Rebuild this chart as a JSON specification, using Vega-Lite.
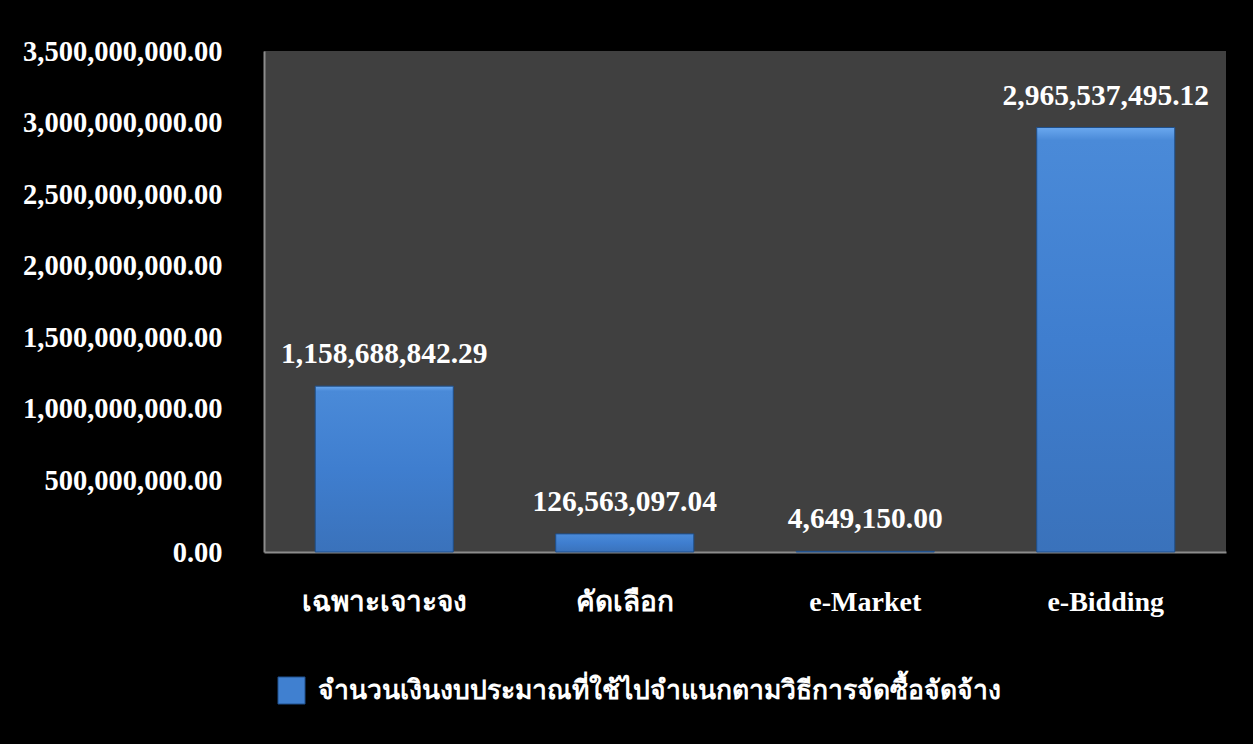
{
  "$schema": "https://vega.github.io/schema/vega-lite/v6.json",
  "autosize": {"type": "none"},
  "width": 962,
  "height": 501,
  "padding": {"left": 264, "top": 51, "right": 27, "bottom": 192},
  "background": "#000000",
  "data": {
    "values": [
      {"method": "เฉพาะเจาะจง", "amount": 1158688842.29, "series": "จำนวนเงินงบประมาณที่ใช้ไปจำแนกตามวิธีการจัดซื้อจัดจ้าง"},
      {"method": "คัดเลือก", "amount": 126563097.04, "series": "จำนวนเงินงบประมาณที่ใช้ไปจำแนกตามวิธีการจัดซื้อจัดจ้าง"},
      {"method": "e-Market", "amount": 4649150.00, "series": "จำนวนเงินงบประมาณที่ใช้ไปจำแนกตามวิธีการจัดซื้อจัดจ้าง"},
      {"method": "e-Bidding", "amount": 2965537495.12, "series": "จำนวนเงินงบประมาณที่ใช้ไปจำแนกตามวิธีการจัดซื้อจัดจ้าง"}
    ]
  },
  "encoding": {
    "x": {
      "field": "method",
      "type": "nominal",
      "sort": null,
      "scale": {"paddingInner": 0.426, "paddingOuter": 0.213},
      "axis": {
        "title": null,
        "labelAngle": 0,
        "labelFont": "Liberation Serif",
        "labelFontSize": 28,
        "labelFontWeight": "bold",
        "labelColor": "#ffffff",
        "labelPadding": 36,
        "labelLimit": 400,
        "ticks": false,
        "domainColor": "#8c8c8c",
        "domainWidth": 2
      }
    },
    "y": {
      "field": "amount",
      "type": "quantitative",
      "scale": {"domain": [0, 3500000000], "nice": false},
      "axis": {
        "title": null,
        "format": ",.2f",
        "values": [0, 500000000, 1000000000, 1500000000, 2000000000, 2500000000, 3000000000, 3500000000],
        "labelFont": "Liberation Serif",
        "labelFontSize": 28.5,
        "labelFontWeight": "bold",
        "labelColor": "#ffffff",
        "labelPadding": 42,
        "labelLimit": 400,
        "labelOverlap": false,
        "labelBound": false,
        "labelFlush": false,
        "ticks": false,
        "grid": false,
        "domainColor": "#8c8c8c",
        "domainWidth": 2
      }
    }
  },
  "layer": [
    {
      "mark": {
        "type": "bar",
        "stroke": "#1f4f8a",
        "strokeWidth": 1,
        "fill": {
          "x1": 0, "y1": 0, "x2": 0, "y2": 1,
          "gradient": "linear",
          "stops": [
            {"offset": 0, "color": "#6aa8ef"},
            {"offset": 0.03, "color": "#4a8ad8"},
            {"offset": 0.5, "color": "#3f7ecf"},
            {"offset": 1, "color": "#3a72bb"}
          ]
        }
      },
      "encoding": {}
    },
    {
      "mark": {"type": "bar", "opacity": 0},
      "encoding": {
        "color": {
          "field": "series",
          "type": "nominal",
          "scale": {"range": ["#4080d0"]},
          "legend": {
            "title": null,
            "orient": "none",
            "legendX": 13,
            "legendY": 625,
            "symbolType": "square",
            "symbolSize": 730,
            "symbolOpacity": 1,
            "symbolFillColor": "#4080d0",
            "symbolStrokeColor": "#1f4f8a",
            "symbolStrokeWidth": 1,
            "labelFont": "Liberation Serif",
            "labelFontSize": 26.5,
            "labelFontWeight": "bold",
            "labelColor": "#ffffff",
            "labelLimit": 1000,
            "labelOffset": 12
          }
        }
      }
    },
    {
      "mark": {
        "type": "text",
        "dy": -32,
        "font": "Liberation Serif",
        "fontSize": 29.5,
        "fontWeight": "bold",
        "color": "#ffffff",
        "baseline": "middle"
      },
      "encoding": {
        "text": {"field": "amount", "type": "quantitative", "format": ",.2f"}
      }
    }
  ],
  "config": {
    "view": {"fill": "#404040", "stroke": null}
  }
}
